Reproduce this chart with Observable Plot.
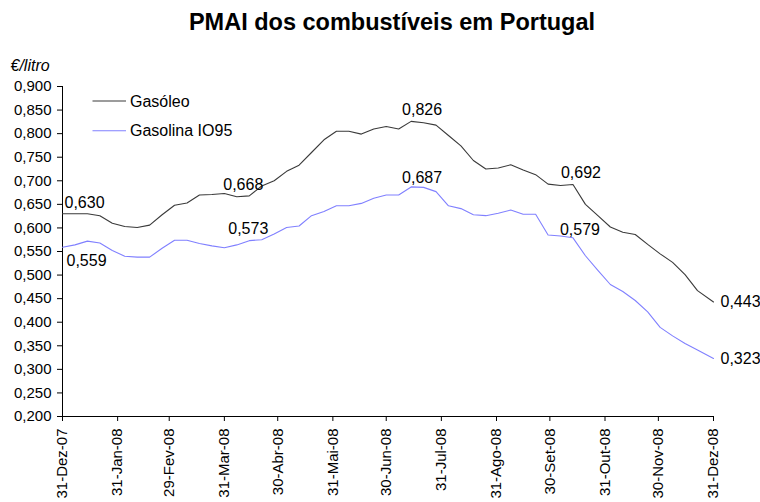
<!DOCTYPE html>
<html>
<head>
<meta charset="utf-8">
<script src="https://cdn.jsdelivr.net/npm/d3@7"></script>
<script src="https://cdn.jsdelivr.net/npm/@observablehq/plot@0.6"></script>
<style>
  html, body { margin: 0; padding: 0; background: #fff; overflow: hidden; }
  #title { width: 760px; height: 40px; box-sizing: border-box; padding-top: 11px; padding-left: 24px;
    text-align: center; font: bold 23.5px "Liberation Sans", Arial, sans-serif; line-height: 1; color: #000; }
</style>
</head>
<body>
<div id="title">PMAI dos combustíveis em Portugal</div>
<div id="chart"></div>
<script>
// ---- data ----
const dates = [
  "2007-12-31","2008-01-07","2008-01-14","2008-01-21","2008-01-28","2008-02-04","2008-02-11","2008-02-18",
  "2008-02-25","2008-03-03","2008-03-10","2008-03-17","2008-03-24","2008-03-31","2008-04-07","2008-04-14",
  "2008-04-21","2008-04-28","2008-05-05","2008-05-12","2008-05-19","2008-05-26","2008-06-02","2008-06-09",
  "2008-06-16","2008-06-23","2008-06-30","2008-07-07","2008-07-14","2008-07-21","2008-07-28","2008-08-04",
  "2008-08-11","2008-08-18","2008-08-25","2008-09-01","2008-09-08","2008-09-15","2008-09-22","2008-09-29",
  "2008-10-06","2008-10-13","2008-10-20","2008-10-27","2008-11-03","2008-11-10","2008-11-17","2008-11-24",
  "2008-12-01","2008-12-08","2008-12-15","2008-12-22","2008-12-31"
];
const gasoleo = [
  0.630,0.630,0.630,0.626,0.610,0.603,0.601,0.606,
  0.628,0.648,0.653,0.670,0.671,0.673,0.666,0.668,
  0.689,0.700,0.720,0.733,0.760,0.787,0.805,0.805,
  0.799,0.810,0.815,0.810,0.826,0.823,0.818,0.796,
  0.774,0.743,0.725,0.727,0.734,0.723,0.713,0.693,
  0.690,0.692,0.650,0.626,0.602,0.591,0.586,0.565,
  0.545,0.527,0.501,0.467,0.443
];
const gasolina = [
  0.559,0.564,0.572,0.568,0.552,0.540,0.538,0.538,
  0.557,0.574,0.574,0.567,0.562,0.558,0.564,0.573,
  0.575,0.587,0.601,0.604,0.626,0.635,0.647,0.647,
  0.652,0.663,0.670,0.670,0.687,0.686,0.677,0.647,
  0.641,0.628,0.626,0.631,0.638,0.629,0.629,0.585,
  0.583,0.579,0.541,0.510,0.480,0.465,0.446,0.422,
  0.389,0.371,0.355,0.341,0.323
];
const seriesNames = ["Gasóleo", "Gasolina IO95"];
const xTickDates = ["2007-12-31","2008-01-31","2008-02-29","2008-03-31","2008-04-30","2008-05-31",
  "2008-06-30","2008-07-31","2008-08-31","2008-09-30","2008-10-31","2008-11-30","2008-12-31"];
const xTickLabels = ["31-Dez-07","31-Jan-08","29-Fev-08","31-Mar-08","30-Abr-08","31-Mai-08",
  "30-Jun-08","31-Jul-08","31-Ago-08","30-Set-08","31-Out-08","30-Nov-08","31-Dez-08"];
const yTicks = [0.200,0.250,0.300,0.350,0.400,0.450,0.500,0.550,0.600,0.650,0.700,0.750,0.800,0.850,0.900];
const yUnit = "€/litro";
const labelledIdx = [0, 15, 28, 41, 52];

// ---- layout (styling only) ----
const FONT = '"Liberation Sans", Arial, sans-serif';
const colors = {"Gasóleo": "#3a3a3a", "Gasolina IO95": "#8080ff"};
const labelLayout = {
  "Gasóleo":       [[2,-11,"start"],[-6,-11,"middle"],[11,-12,"middle"],[8,-12,"middle"],[7,0,"start"]],
  "Gasolina IO95": [[4,14,"start"],[-1,-12,"middle"],[11,-9,"middle"],[7,-8,"middle"],[7,0,"start"]]
};

const parse = d3.utcParse("%Y-%m-%d");
const rows = [];
const seriesValues = {"Gasóleo": gasoleo, "Gasolina IO95": gasolina};
for (const s of seriesNames) {
  dates.forEach((d, i) => rows.push({series: s, date: parse(d), value: seriesValues[s][i]}));
}
const tickDates = xTickDates.map(parse);
const tickMap = new Map(tickDates.map((d, i) => [+d, xTickLabels[i]]));
const fmt = v => v.toFixed(3).replace(".", ",");

const marks = [
  Plot.ruleX([tickDates[0]], {stroke: "#000", strokeWidth: 1}),
  Plot.ruleY([yTicks[0]], {stroke: "#000", strokeWidth: 1}),
  ...seriesNames.map(s => Plot.line(rows.filter(r => r.series === s), {
    x: "date", y: "value", stroke: colors[s], strokeWidth: 1.1, curve: "linear"
  })),
  Plot.text([yUnit], {frameAnchor: "top-left", dx: -52, dy: -21, textAnchor: "start", lineAnchor: "middle",
    fontStyle: "italic", fontSize: 16, fill: "#000"})
];
for (const s of seriesNames) {
  labelledIdx.forEach((idx, j) => {
    const [dx, dy, anchor] = labelLayout[s][j];
    const r = rows.filter(r => r.series === s)[idx];
    marks.push(Plot.text([r], {x: "date", y: "value", text: d => fmt(d.value), dx, dy,
      textAnchor: anchor, lineAnchor: "middle", fontSize: 16, fill: "#000"}));
  });
}

const chart = Plot.plot({
  width: 760,
  height: 462,
  marginTop: 46,
  marginBottom: 86,
  marginLeft: 62,
  marginRight: 47,
  style: {fontFamily: FONT, fontSize: "15px", color: "#000", background: "#fff"},
  x: {type: "utc", domain: [tickDates[0], tickDates[tickDates.length - 1]], ticks: tickDates,
      tickFormat: d => tickMap.get(+d), tickRotate: -90, tickSize: 5, tickPadding: 7, label: null},
  y: {domain: [yTicks[0], yTicks[yTicks.length - 1]], ticks: yTicks, tickFormat: fmt,
      tickSize: 5, tickPadding: 6, label: null},
  marks
});
document.getElementById("chart").appendChild(chart);

// legend (inside the plot area, top-left)
const svg = d3.select(chart);
const legendItems = [{name: seriesNames[0], y: 61}, {name: seriesNames[1], y: 90.7}];
const lg = svg.append("g").attr("font-family", FONT).attr("font-size", 16).attr("text-anchor", "start");
legendItems.forEach(it => {
  lg.append("line").attr("x1", 92.5).attr("x2", 126).attr("y1", it.y).attr("y2", it.y)
    .attr("stroke", colors[it.name]).attr("stroke-width", 1.1);
  lg.append("text").attr("x", 130).attr("y", it.y + 5.5).attr("fill", "#000")
    .attr("text-anchor", "start").text(it.name);
});
</script>
</body>
</html>
